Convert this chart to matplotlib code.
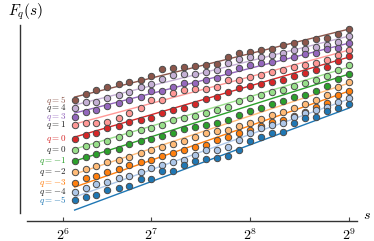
import matplotlib
matplotlib.use("Agg")
import matplotlib.pyplot as plt

plt.rcParams["mathtext.fontset"] = "cm"

# window sizes s (log-spaced, 9 per octave)
scales = [75, 81, 87, 94, 102, 110, 119, 128, 138, 149, 161, 174, 188,
          203, 219, 237, 256, 276, 299, 323, 348, 376, 406, 439, 474, 512]

q_values = [5, 4, 3, 2, 1, 0, -1, -2, -3, -4, -5]
q_labels = ["$q=5$", "$q=4$", "$q=3$", "$q=1$", "$q=0$", "$q=0$",
            "$q=-1$", "$q=-2$", "$q=-3$", "$q=-4$", "$q=-5$"]
colors = ["#8c564b", "#c5b0d5", "#9467bd", "#ff9896", "#d62728", "#98df8a",
          "#2ca02c", "#ffbb78", "#ff7f0e", "#aec7e8", "#1f77b4"]
label_colors = ["#8c564b", "#222222", "#9467bd", "#222222", "#d62728", "#222222",
                "#2ca02c", "#222222", "#ff7f0e", "#222222", "#1f77b4"]

# fluctuation function (log, arbitrary offset per q)
fq = [
    [1.50, 1.56, 1.60, 1.63, 1.66, 1.68, 1.70, 1.74, 1.81, 1.82, 1.83, 1.84, 1.85,
     1.86, 1.93, 1.97, 1.98, 2.00, 2.01, 2.05, 2.07, 2.08, 2.11, 2.12, 2.16, 2.21],
    [1.42, 1.48, 1.48, 1.52, 1.55, 1.58, 1.63, 1.66, 1.71, 1.75, 1.76, 1.76, 1.78,
     1.80, 1.87, 1.91, 1.93, 1.93, 1.95, 1.97, 2.00, 2.01, 2.03, 2.05, 2.08, 2.14],
    [1.33, 1.38, 1.40, 1.44, 1.47, 1.50, 1.53, 1.59, 1.59, 1.63, 1.67, 1.67, 1.70,
     1.72, 1.78, 1.82, 1.85, 1.87, 1.88, 1.92, 1.93, 1.96, 1.97, 2.01, 2.02, 2.07],
    [1.25, 1.27, 1.27, 1.28, 1.32, 1.37, 1.42, 1.50, 1.50, 1.57, 1.60, 1.61, 1.61,
     1.63, 1.70, 1.70, 1.73, 1.75, 1.78, 1.80, 1.83, 1.85, 1.87, 1.90, 1.95, 2.00],
    [1.11, 1.15, 1.17, 1.22, 1.24, 1.28, 1.30, 1.32, 1.37, 1.40, 1.42, 1.46, 1.51,
     1.53, 1.58, 1.62, 1.64, 1.66, 1.68, 1.70, 1.74, 1.77, 1.80, 1.83, 1.89, 1.94],
    [1.00, 1.04, 1.06, 1.09, 1.13, 1.17, 1.20, 1.22, 1.25, 1.30, 1.32, 1.34, 1.37,
     1.40, 1.43, 1.49, 1.52, 1.55, 1.58, 1.60, 1.64, 1.67, 1.70, 1.74, 1.80, 1.85],
    [0.89, 0.93, 0.96, 0.99, 1.01, 1.06, 1.09, 1.11, 1.14, 1.17, 1.21, 1.23, 1.25,
     1.27, 1.30, 1.35, 1.39, 1.42, 1.46, 1.49, 1.53, 1.55, 1.59, 1.64, 1.71, 1.76],
    [0.78, 0.81, 0.84, 0.88, 0.90, 0.93, 0.97, 1.00, 1.03, 1.06, 1.09, 1.13, 1.17,
     1.19, 1.20, 1.24, 1.27, 1.31, 1.35, 1.38, 1.42, 1.46, 1.50, 1.55, 1.63, 1.68],
    [0.67, 0.72, 0.74, 0.78, 0.81, 0.85, 0.88, 0.90, 0.94, 0.97, 1.00, 1.03, 1.05,
     1.10, 1.13, 1.17, 1.20, 1.24, 1.28, 1.30, 1.34, 1.38, 1.43, 1.47, 1.55, 1.59],
    [0.58, 0.62, 0.66, 0.68, 0.72, 0.74, 0.78, 0.82, 0.85, 0.88, 0.90, 0.95, 1.00,
     1.00, 1.03, 1.10, 1.17, 1.22, 1.25, 1.27, 1.33, 1.37, 1.40, 1.43, 1.48, 1.52],
    [0.50, 0.53, 0.55, 0.60, 0.62, 0.64, 0.71, 0.71, 0.79, 0.79, 0.85, 0.89, 0.91,
     0.92, 0.94, 1.00, 1.09, 1.13, 1.17, 1.18, 1.27, 1.32, 1.33, 1.39, 1.42, 1.46],
]

# fitted line values at the first and last scale
fit_start = [1.53, 1.45, 1.37, 1.26, 1.13, 1.01, 0.89, 0.76, 0.63, 0.53, 0.40]
fit_end = [2.21, 2.14, 2.07, 2.00, 1.93, 1.83, 1.76, 1.67, 1.59, 1.51, 1.42]

tick_pos = [69, 128, 256, 512]
tick_labels = ["$2^6$", "$2^7$", "$2^8$", "$2^9$"]

fig = plt.figure(figsize=(3.74, 2.41), dpi=100)
ax = fig.add_axes([0.072, 0.116, 0.883, 0.78])

for i in range(len(q_values)):
    ax.plot([scales[0], scales[-1]], [fit_start[i], fit_end[i]],
            color=colors[i], linewidth=1.0, zorder=1)
    ax.plot(scales, fq[i], "o", color=colors[i], markersize=4.6,
            markeredgecolor="#4a4a4a", markeredgewidth=0.7, zorder=2)
    ax.annotate(q_labels[i], (scales[0], fq[i][0]), xytext=(-6, 0),
                textcoords="offset points", ha="right", va="center",
                fontsize=6.5, color=label_colors[i])

ax.set_xscale("log", base=2)
ax.set_xlim(53.7, 542)
ax.set_ylim(0.37, 2.25)
ax.set_xticks(tick_pos)
ax.set_xticklabels(tick_labels, fontsize=11)
ax.minorticks_off()
ax.set_yticks([])
ax.tick_params(axis="x", direction="in", length=3, width=0.8, color="#444444", pad=4)

for side in ["top", "right"]:
    ax.spines[side].set_visible(False)
ax.spines["left"].set_position(("outward", 5))
ax.spines["bottom"].set_position(("outward", 6))
for side in ["left", "bottom"]:
    ax.spines[side].set_linewidth(1.0)
    ax.spines[side].set_color("#333333")

fig.text(8 / 374, 1 - 12 / 241, "$F_q(s)$", fontsize=11, ha="left", va="center")
fig.text(363 / 374, 1 - 215 / 241, "$s$", fontsize=10, ha="left", va="center")

fig.savefig("out.png", dpi=100)
